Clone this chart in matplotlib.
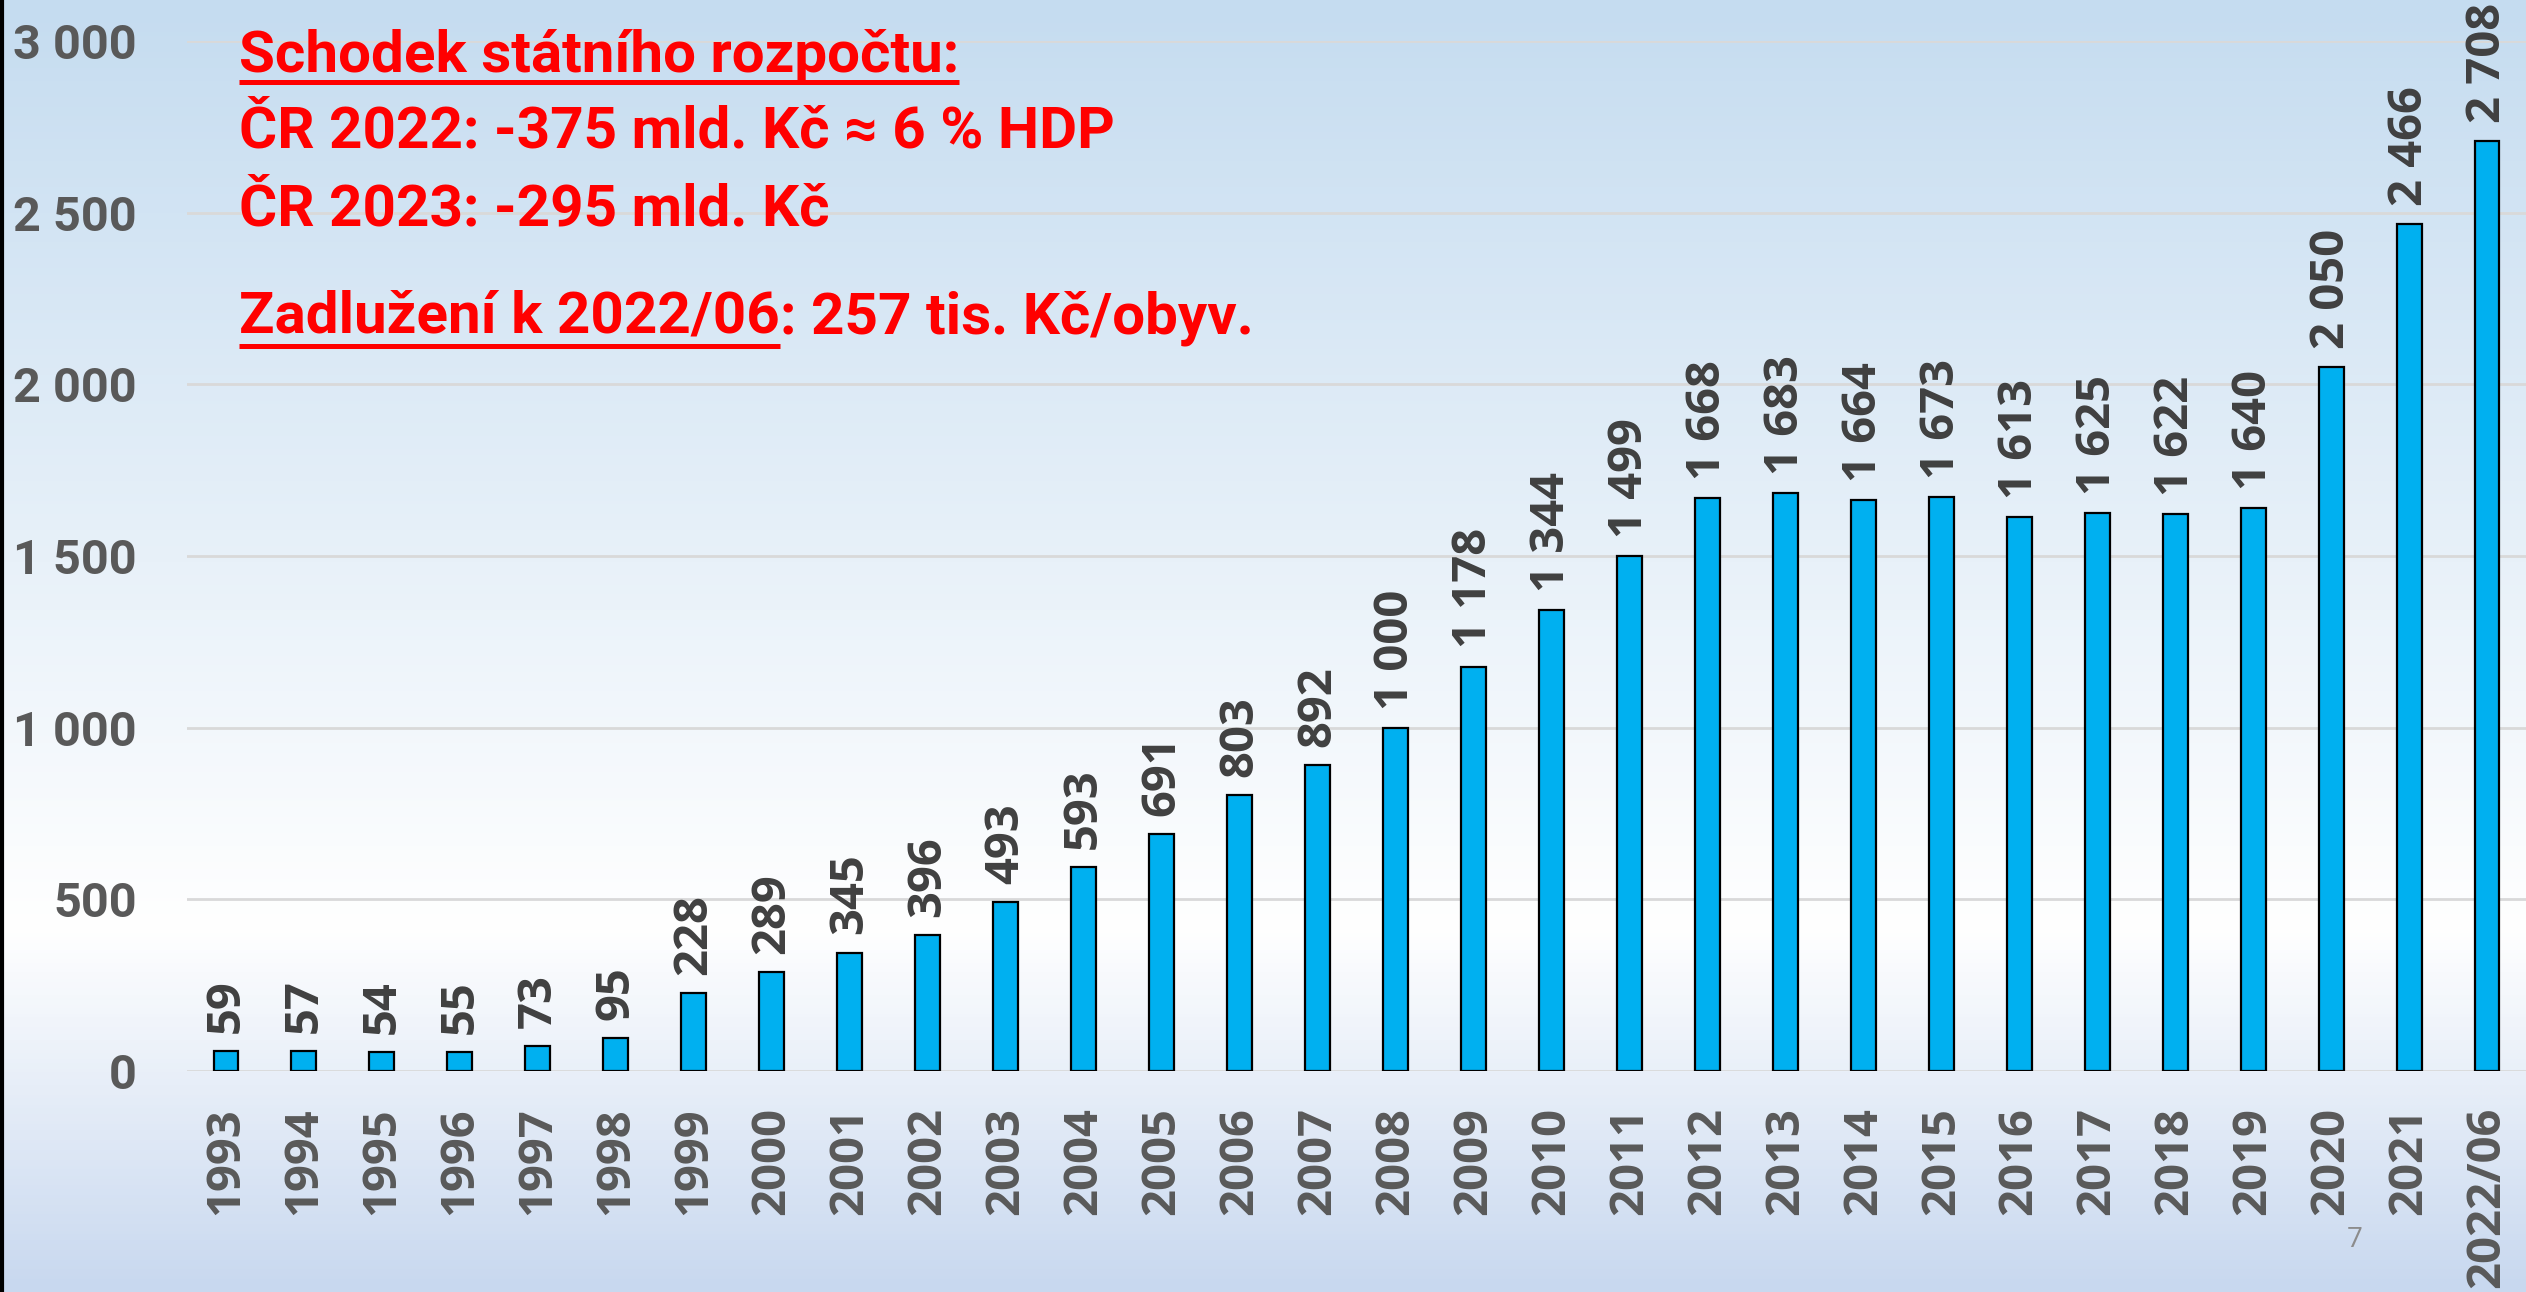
import matplotlib
matplotlib.use("Agg")
import matplotlib.pyplot as plt
import numpy as np
from matplotlib.lines import Line2D
from matplotlib.colors import LinearSegmentedColormap

# Statni dluh CR (mld. Kc)
years = ["1993", "1994", "1995", "1996", "1997", "1998", "1999", "2000", "2001", "2002",
         "2003", "2004", "2005", "2006", "2007", "2008", "2009", "2010", "2011", "2012",
         "2013", "2014", "2015", "2016", "2017", "2018", "2019", "2020", "2021", "2022/06"]
debt = [59, 57, 54, 55, 73, 95, 228, 289, 345, 396,
        493, 593, 691, 803, 892, 1000, 1178, 1344, 1499, 1668,
        1683, 1664, 1673, 1613, 1625, 1622, 1640, 2050, 2466, 2708]

yticks = [0, 500, 1000, 1500, 2000, 2500, 3000]

W, H = 2526, 1292
fig = plt.figure(figsize=(W / 100, H / 100), dpi=100)

# slide background gradient
bg = fig.add_axes([0, 0, 1, 1], zorder=-10)
cmap = LinearSegmentedColormap.from_list(
    "slide", [(0.0, "#c5dcf0"), (0.72, "#ffffff"), (1.0, "#c8d8ef")])
bg.imshow(np.linspace(0, 1, 400).reshape(-1, 1), aspect="auto", cmap=cmap,
          extent=[0, 1, 0, 1], origin="upper")
bg.axis("off")
bg.add_line(Line2D([0.0006, 0.0006], [0, 1], color="black", lw=3))


def fx(px):
    return px / W


def fy(py):
    return 1 - py / H


ax = fig.add_axes([fx(187), fy(1071), fx(W - 187), fy(41) - fy(1071)])
ax.set_facecolor("none")

x = np.arange(len(years))
ax.bar(x, debt, width=0.32, color="#00b0f0", edgecolor="black", linewidth=1.6, zorder=3)

num_font = ["Open Sans", "DejaVu Sans"]
for i, v in enumerate(debt):
    ax.annotate(f"{v:,}".replace(",", " "), (i, v), xytext=(0, 13), textcoords="offset points",
                rotation=90, ha="center", va="bottom", fontsize=34, fontweight="bold",
                color="#404040", family=num_font, annotation_clip=False)

ax.set_xlim(-0.5, len(years) - 0.5)
ax.set_ylim(0, 3000)
ax.set_yticks(yticks)
ax.set_yticklabels([f"{t:,}".replace(",", " ") for t in yticks])
ax.set_xticks(x)
ax.set_xticklabels(years, rotation=90)
ax.tick_params(axis="x", length=0, pad=26, labelsize=34, labelcolor="#595959")
ax.tick_params(axis="y", length=0, pad=36, labelsize=35, labelcolor="#595959")
for lab in ax.get_xticklabels():
    lab.set_fontweight("bold")
    lab.set_family(num_font)
for lab in ax.get_yticklabels():
    lab.set_fontweight("bold")
    lab.set_family(["Roboto", "DejaVu Sans"])

ax.grid(axis="y", color="#d9d9d9", linewidth=2, zorder=0)
for s in ax.spines.values():
    s.set_visible(False)

# red annotation block
red_font = ["Roboto", "DejaVu Sans"]
red_kw = dict(transform=fig.transFigure, color="#ff0000", fontsize=42, fontweight="bold",
              family=red_font, ha="left", va="baseline")

t1 = fig.text(fx(239), fy(72), "Schodek státního rozpočtu:", **red_kw)
fig.text(fx(239), fy(148), "ČR 2022: -375 mld. Kč ≈ 6 % HDP", **red_kw)
fig.text(fx(239), fy(225), "ČR 2023: -295 mld. Kč", **red_kw)
t4 = fig.text(fx(239), fy(333), "Zadlužení k 2022/06", **red_kw)

fig.canvas.draw()
r = fig.canvas.get_renderer()
e4 = t4.get_window_extent(r)
fig.text(e4.x1 / W, fy(333), ": 257 tis. Kč/obyv.", **red_kw)


def underline(t, ypx):
    e = t.get_window_extent(r)
    fig.add_artist(Line2D([e.x0 / W, e.x1 / W], [fy(ypx), fy(ypx)], color="#ff0000",
                          lw=3.6, transform=fig.transFigure, solid_capstyle="butt"))


underline(t1, 82)
underline(t4, 346)

# slide number
fig.text(fx(2355), fy(1240), "7", color="#8c8c8c", fontsize=20, ha="center", va="center",
         family=["Open Sans", "DejaVu Sans"])

fig.savefig("out.png", dpi=100)
